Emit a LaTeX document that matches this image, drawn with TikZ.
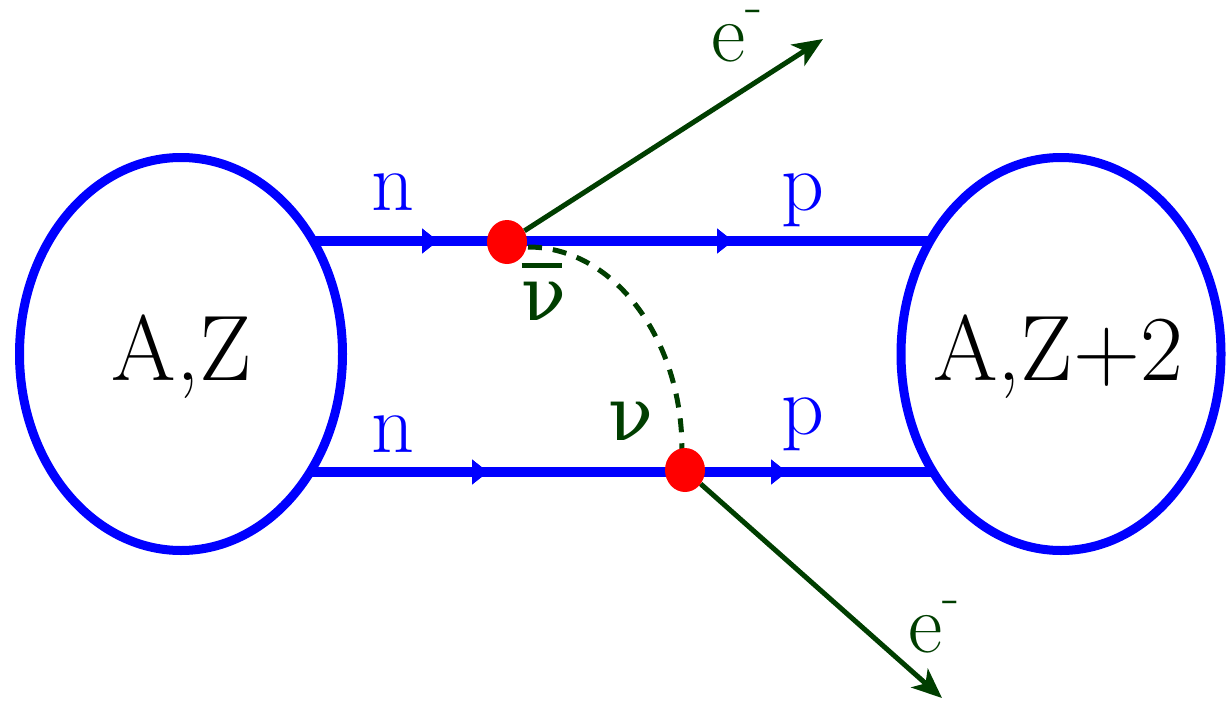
\documentclass[tikz,border=0pt]{standalone}
\usepackage{fontspec}
\newfontfamily\grk{DejaVu Serif}
\usetikzlibrary{shapes.geometric,arrows.meta,decorations.markings}
\definecolor{nblue}{RGB}{0,0,255}
\definecolor{egreen}{RGB}{0,62,0}
\definecolor{dotred}{RGB}{255,0,0}
\tikzset{
  nucleus/.style={ellipse,draw=nblue,line width=9pt,inner sep=0pt},
  ntext/.style={inner sep=0pt,anchor=base,font=\rmfamily\fontsize{93}{93}\selectfont},
  vertex/.style={ellipse,fill=dotred,inner sep=0pt,minimum width=40pt,minimum height=44pt},
  nucleon/.style={draw=nblue,line width=9.5pt},
  elec/.style={draw=egreen,line width=5pt,-{Stealth[length=30pt,width=25pt,inset=8pt]}},
  nuline/.style={draw=egreen,line width=5pt,dash pattern=on 14pt off 11pt},
  blab/.style={text=nblue,inner sep=0pt,anchor=base,font=\rmfamily\fontsize{84}{84}\selectfont},
  glab/.style={text=egreen,inner sep=0pt,font=\rmfamily\fontsize{84}{84}\selectfont},
  nulab/.style={text=egreen,inner sep=0pt,font=\grk\fontsize{74}{74}\selectfont},
  midarrow/.style={decoration={markings,mark=at position #1 with {\arrow{Triangle[length=16pt,width=24pt]}}},postaction={decorate}}
}
\begin{document}
\begin{tikzpicture}[x=1pt,y=-1pt]
\useasboundingbox (0,0) rectangle (1230,701);
% nuclei
\node[nucleus,minimum width=323pt,minimum height=393pt] (L) at (181,354) {};
\node[nucleus,minimum width=320pt,minimum height=393pt] (R) at (1061,354) {};
\node[ntext] (Ltext) at (182,380) {A,Z};
\node[ntext] (Rtext) at (1058,380) {A,Z+2};
% nucleon line end points
\coordinate (t0) at (313,241);
\coordinate (t1) at (930,241);
\coordinate (b0) at (310,472);
\coordinate (b1) at (933,472);
\draw[nucleon,midarrow=125pt,midarrow=420pt] (t0) -- (t1);
\draw[nucleon,midarrow=178pt,midarrow=477pt] (b0) -- (b1);
% neutrino exchange
\coordinate (nu0) at (528,247);
\draw[nuline] (nu0) arc[start angle=-90,end angle=0,x radius=154,y radius=203] coordinate (nu1);
% electrons
\coordinate (e1) at (823,39);
\coordinate (e2) at (942,698);
\node[vertex] (v1) at (507,242) {};
\node[vertex] (v2) at (685,470) {};
\draw[elec] (v1) -- (e1);
\draw[elec] (v2) -- (e2);
% labels
\node[blab] (n1) at (393,210) {n};
\node[blab] (n2) at (393,452) {n};
\node[blab] (p1) at (803,210) {p};
\node[blab] (p2) at (803,434) {p};
\node[nulab,anchor=base] (nub) at (544,320) {\rlap{\raisebox{52pt}{\rule{40pt}{5pt}}}ν};
\node[nulab,anchor=base] (nu) at (631,440) {ν};
\node[glab,anchor=base west] (el1) at (711,62) {e\raisebox{38pt}{\fontsize{56}{56}\selectfont -}};
\node[glab,anchor=base west] (el2) at (908,652) {e\raisebox{38pt}{\fontsize{56}{56}\selectfont -}};
\end{tikzpicture}
\end{document}
